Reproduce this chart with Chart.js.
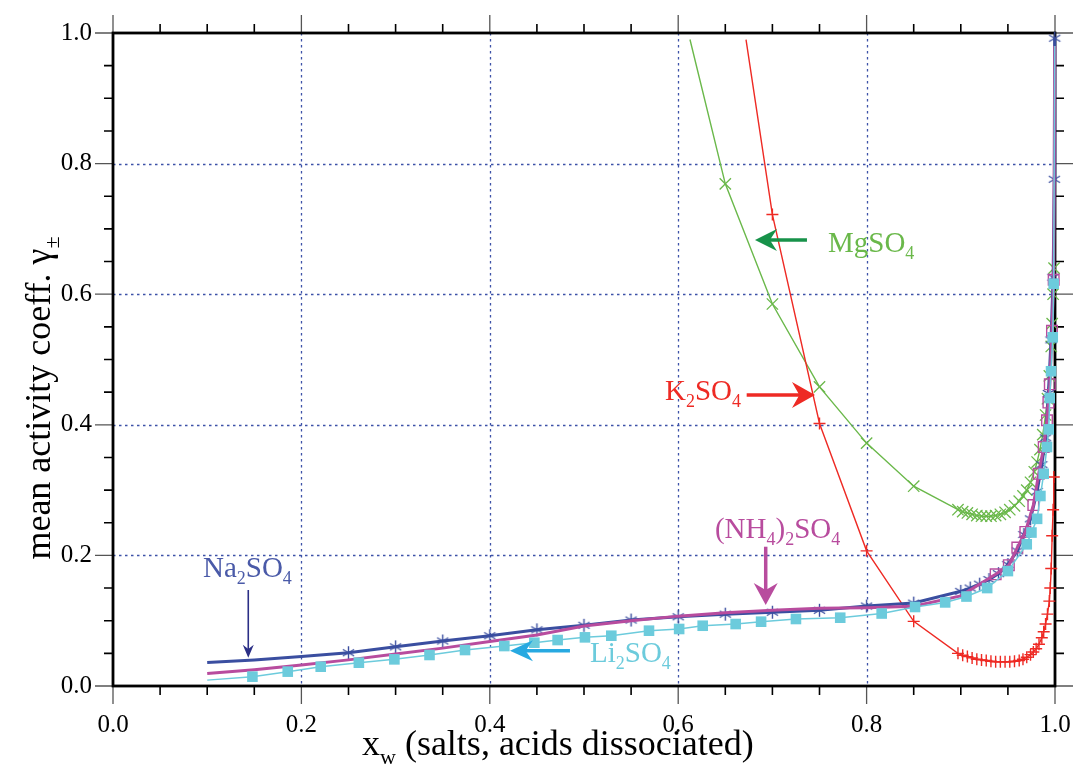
<!DOCTYPE html>
<html><head><meta charset="utf-8">
<script src="https://cdn.jsdelivr.net/npm/chart.js@4"></script>
<style>html,body{margin:0;padding:0;background:#fff}</style>
</head><body>
<canvas id="c" width="1077" height="764"></canvas>
<script>
// ---------------- data ----------------
const seriesNames = ['MgSO4', 'K2SO4', 'Na2SO4', '(NH4)2SO4', 'Li2SO4'];

const mgX = [0.6125, 0.65, 0.70, 0.75, 0.80, 0.85, 0.897, 0.902, 0.907, 0.912, 0.917, 0.922, 0.927, 0.932, 0.937, 0.942, 0.947, 0.952, 0.957, 0.962, 0.966, 0.970, 0.974, 0.978, 0.981, 0.984, 0.987, 0.990, 0.992, 0.994, 0.996, 0.997, 0.998, 0.999];
const mgY = [0.990, 0.769, 0.585, 0.458, 0.372, 0.306, 0.270, 0.267, 0.265, 0.263, 0.261, 0.260, 0.260, 0.260, 0.261, 0.263, 0.266, 0.270, 0.276, 0.283, 0.291, 0.300, 0.312, 0.328, 0.343, 0.362, 0.385, 0.415, 0.440, 0.475, 0.520, 0.555, 0.600, 0.640];

const kX = [0.672, 0.70, 0.75, 0.80, 0.85, 0.897, 0.902, 0.907, 0.912, 0.917, 0.922, 0.927, 0.932, 0.937, 0.942, 0.947, 0.952, 0.957, 0.962, 0.966, 0.970, 0.974, 0.977, 0.980, 0.983, 0.986, 0.988, 0.990, 0.992, 0.994, 0.995, 0.996, 0.997, 0.998, 0.9987];
const kY = [0.990, 0.722, 0.402, 0.207, 0.099, 0.050, 0.047, 0.045, 0.043, 0.041, 0.040, 0.039, 0.038, 0.037, 0.037, 0.037, 0.037, 0.038, 0.039, 0.041, 0.044, 0.048, 0.052, 0.057, 0.064, 0.074, 0.083, 0.095, 0.110, 0.130, 0.150, 0.180, 0.230, 0.270, 0.320];

const naX = [0.10, 0.15, 0.20, 0.25, 0.30, 0.35, 0.40, 0.45, 0.50, 0.55, 0.60, 0.65, 0.70, 0.75, 0.80, 0.85, 0.90, 0.91, 0.92, 0.93, 0.94, 0.95, 0.96, 0.967, 0.974, 0.981, 0.986, 0.990, 0.993, 0.9958, 0.998, 0.9993, 0.9997];
const naY = [0.036, 0.040, 0.045, 0.051, 0.060, 0.069, 0.077, 0.086, 0.093, 0.101, 0.106, 0.110, 0.113, 0.116, 0.1225, 0.127, 0.145, 0.150, 0.156, 0.163, 0.172, 0.186, 0.207, 0.232, 0.256, 0.298, 0.339, 0.380, 0.448, 0.530, 0.626, 0.776, 0.992];

const nhX = [0.10, 0.15, 0.20, 0.25, 0.30, 0.35, 0.40, 0.45, 0.50, 0.55, 0.60, 0.65, 0.70, 0.75, 0.80, 0.85, 0.90, 0.937, 0.951, 0.960, 0.9685, 0.977, 0.9827, 0.988, 0.9915, 0.993, 0.9945, 0.9968, 0.9986, 0.9997];
const nhY = [0.019, 0.025, 0.032, 0.040, 0.049, 0.058, 0.068, 0.078, 0.092, 0.100, 0.107, 0.112, 0.116, 0.119, 0.120, 0.122, 0.138, 0.171, 0.185, 0.212, 0.236, 0.277, 0.325, 0.366, 0.407, 0.434, 0.462, 0.544, 0.622, 0.980];

const liX = [0.10, 0.148, 0.1855, 0.2205, 0.261, 0.2987, 0.336, 0.3737, 0.4154, 0.4473, 0.472, 0.501, 0.529, 0.569, 0.601, 0.626, 0.661, 0.688, 0.725, 0.772, 0.816, 0.8514, 0.8834, 0.906, 0.928, 0.950, 0.970, 0.975, 0.981, 0.9845, 0.988, 0.9915, 0.9933, 0.9944, 0.9958, 0.9976, 0.9986, 0.9997];
const liY = [0.009, 0.0143, 0.022, 0.0296, 0.0357, 0.0408, 0.0475, 0.0551, 0.0612, 0.0663, 0.0704, 0.0745, 0.077, 0.0847, 0.0873, 0.0923, 0.0949, 0.0985, 0.1026, 0.1046, 0.111, 0.121, 0.128, 0.137, 0.150, 0.176, 0.217, 0.235, 0.256, 0.291, 0.325, 0.366, 0.393, 0.441, 0.482, 0.534, 0.616, 0.980];

const xTickValues = [0.0, 0.2, 0.4, 0.6, 0.8, 1.0];
const yTickValues = [0.0, 0.2, 0.4, 0.6, 0.8, 1.0];
const xTickLabels = ['0.0', '0.2', '0.4', '0.6', '0.8', '1.0'];
const yTickLabels = ['0.0', '0.2', '0.4', '0.6', '0.8', '1.0'];

// ---------------- styling ----------------
const FONT = '"Liberation Serif", "Times New Roman", "DejaVu Serif", serif';
const C = {
  mg: '#6ab84a', mgArrow: '#17924a',
  k: '#ee2a24',
  na: '#3a4ea0', naText: '#4a5aa8', naArrow: '#2b2f86',
  nh: '#b84c9e',
  li: '#6ccbdc', liArrow: '#27a9e1',
  grid: '#3d52a8'
};
function pts(xs, ys) { return xs.map((x, i) => ({ x: x, y: ys[i] })); }

// six-armed asterisk marker
function asterisk(color, r, lw) {
  const s = Math.ceil(2 * r + 4), cv = document.createElement('canvas');
  cv.width = s; cv.height = s;
  const g = cv.getContext('2d');
  g.strokeStyle = color; g.lineWidth = lw; g.lineCap = 'butt';
  g.translate(s / 2, s / 2);
  [90, 30, 150].forEach(deg => {
    const a = deg * Math.PI / 180, dx = Math.cos(a) * r, dy = Math.sin(a) * r;
    g.beginPath(); g.moveTo(-dx, -dy); g.lineTo(dx, dy); g.stroke();
  });
  return cv;
}

// ---------------- plugins ----------------
const framePlugin = {
  id: 'frame',
  beforeDatasetsDraw(chart) {
    const { ctx, chartArea: a, scales: { x, y } } = chart;
    ctx.save();
    ctx.strokeStyle = C.grid; ctx.lineWidth = 1.3; ctx.setLineDash([2.5, 3.5]);
    xTickValues.slice(1, -1).forEach(v => {
      const px = Math.round(x.getPixelForValue(v)) + 0.5;
      ctx.beginPath(); ctx.moveTo(px, a.top); ctx.lineTo(px, a.bottom); ctx.stroke();
    });
    yTickValues.slice(1, -1).forEach(v => {
      const py = Math.round(y.getPixelForValue(v)) + 0.5;
      ctx.beginPath(); ctx.moveTo(a.left, py); ctx.lineTo(a.right, py); ctx.stroke();
    });
    ctx.setLineDash([]);
    for (let i = 0; i <= 20; i++) {
      const v = i * 0.05;
      const major = i % 4 === 0;
      const L = major ? 18 : 9;
      ctx.strokeStyle = major ? '#555' : '#000';
      ctx.lineWidth = major ? 1.3 : 1.6;
      const px = x.getPixelForValue(v), py = y.getPixelForValue(v);
      ctx.beginPath();
      ctx.moveTo(px, a.bottom); ctx.lineTo(px, a.bottom + L);
      ctx.moveTo(px, a.top); ctx.lineTo(px, a.top - L);
      ctx.moveTo(a.left, py); ctx.lineTo(a.left - L, py);
      ctx.moveTo(a.right, py); ctx.lineTo(a.right + L, py);
      ctx.stroke();
    }
    ctx.strokeStyle = '#000'; ctx.lineWidth = 2.8;
    ctx.strokeRect(a.left, a.top, a.right - a.left, a.bottom - a.top);
    ctx.restore();
  }
};

function richText(ctx, x, y, parts, size, color, align) {
  const subSize = Math.round(size * 0.62);
  const widths = parts.map(p => { ctx.font = (p.sub ? subSize : size) + 'px ' + FONT; return ctx.measureText(p.t).width; });
  const total = widths.reduce((s, w) => s + w, 0);
  let cx = align === 'center' ? x - total / 2 : x;
  ctx.fillStyle = color; ctx.textBaseline = 'alphabetic'; ctx.textAlign = 'left';
  parts.forEach((p, i) => {
    ctx.font = (p.sub ? subSize : size) + 'px ' + FONT;
    ctx.fillText(p.t, cx, p.sub ? y + size * 0.24 : y);
    cx += widths[i];
  });
}

function arrow(ctx, x1, y1, x2, y2, color, shaftW, headLen, headW) {
  const dx = x2 - x1, dy = y2 - y1, len = Math.hypot(dx, dy);
  const ux = dx / len, uy = dy / len, nx = -uy, ny = ux;
  ctx.save();
  ctx.strokeStyle = color; ctx.fillStyle = color; ctx.lineWidth = shaftW;
  ctx.beginPath(); ctx.moveTo(x1, y1); ctx.lineTo(x2 - ux * headLen * 0.6, y2 - uy * headLen * 0.6); ctx.stroke();
  ctx.beginPath();
  ctx.moveTo(x2, y2);
  ctx.lineTo(x2 - ux * headLen + nx * headW / 2, y2 - uy * headLen + ny * headW / 2);
  ctx.lineTo(x2 - ux * headLen * 0.68, y2 - uy * headLen * 0.68);
  ctx.lineTo(x2 - ux * headLen - nx * headW / 2, y2 - uy * headLen - ny * headW / 2);
  ctx.closePath(); ctx.fill();
  ctx.restore();
}

const annotations = [
  { text: [{ t: 'MgSO' }, { t: '4', sub: true }], x: 0.759, y: 0.665, color: C.mg,
    arrow: { x1: 0.7367, y1: 0.683, x2: 0.6815, y2: 0.683, color: C.mgArrow, w: 3.5, hl: 22, hw: 22 } },
  { text: [{ t: 'K' }, { t: '2', sub: true }, { t: 'SO' }, { t: '4', sub: true }], x: 0.586, y: 0.438, color: C.k,
    arrow: { x1: 0.6727, y1: 0.4456, x2: 0.7452, y2: 0.4456, color: C.k, w: 3.5, hl: 23, hw: 26 } },
  { text: [{ t: '(NH' }, { t: '4', sub: true }, { t: ')' }, { t: '2', sub: true }, { t: 'SO' }, { t: '4', sub: true }], x: 0.639, y: 0.2266, color: C.nh,
    arrow: { x1: 0.6929, y1: 0.2133, x2: 0.6929, y2: 0.124, color: C.nh, w: 3.5, hl: 22, hw: 24 } },
  { text: [{ t: 'Na' }, { t: '2', sub: true }, { t: 'SO' }, { t: '4', sub: true }], x: 0.0955, y: 0.1674, color: C.naText,
    arrow: { x1: 0.1436, y1: 0.147, x2: 0.1436, y2: 0.0433, color: C.naArrow, w: 1.6, hl: 13, hw: 11 } },
  { text: [{ t: 'Li' }, { t: '2', sub: true }, { t: 'SO' }, { t: '4', sub: true }], x: 0.5064, y: 0.0372, color: C.li,
    arrow: { x1: 0.4851, y1: 0.054, x2: 0.4214, y2: 0.054, color: C.liArrow, w: 3.5, hl: 23, hw: 21 } }
];

const annotPlugin = {
  id: 'annot',
  afterDatasetsDraw(chart) {
    const { ctx, scales: { x, y } } = chart;
    ctx.save();
    annotations.forEach(a => {
      richText(ctx, x.getPixelForValue(a.x), y.getPixelForValue(a.y), a.text, 29, a.color, 'left');
      const r = a.arrow;
      arrow(ctx, x.getPixelForValue(r.x1), y.getPixelForValue(r.y1), x.getPixelForValue(r.x2), y.getPixelForValue(r.y2), r.color, r.w, r.hl, r.hw);
    });
    ctx.restore();
  },
  afterDraw(chart) {
    const { ctx, chartArea: a } = chart;
    ctx.save();
    richText(ctx, 362, 755, [{ t: 'x' }, { t: 'w', sub: true }, { t: ' (salts, acids dissociated)' }], 36, '#000', 'left');
    ctx.translate(50, 398);
    ctx.rotate(-Math.PI / 2);
    richText(ctx, 0, 0, [{ t: 'mean activity coeff. γ' }, { t: '±', sub: true }], 36, '#000', 'center');
    ctx.restore();
  }
};

// ---------------- chart ----------------
function lineSet(label, xs, ys, opt) {
  return Object.assign({
    label: label, data: pts(xs, ys), showLine: true, tension: 0, clip: false,
    fill: false, pointHoverRadius: 0
  }, opt);
}

const starImg = asterisk(C.na, 6.5, 1.4);

const datasets = [
  lineSet(seriesNames[4], liX, liY, {
    borderColor: C.li, borderWidth: 1.5, pointStyle: 'rect',
    pointRadius: c => (c.dataIndex === 0 || c.dataIndex === liX.length - 1) ? 0 : 7.5,
    pointBackgroundColor: C.li, pointBorderColor: C.li, pointBorderWidth: 0, order: 1 }),
  lineSet(seriesNames[3], nhX, nhY, {
    borderColor: C.nh, borderWidth: 3, pointStyle: 'rect',
    pointRadius: c => (nhX[c.dataIndex] < 0.93 || c.dataIndex === nhX.length - 1) ? 0 : 7.5,
    pointBackgroundColor: 'rgba(0,0,0,0)', pointBorderColor: C.nh, pointBorderWidth: 1.4, order: 2 }),
  lineSet(seriesNames[2], naX, naY, {
    borderColor: C.na, borderWidth: 3,
    pointStyle: c => c.dataIndex < 3 ? false : starImg,
    pointRadius: c => c.dataIndex < 3 ? 0 : 6,
    pointBackgroundColor: C.na, pointBorderColor: C.na, pointBorderWidth: 1.3, order: 3 }),
  lineSet(seriesNames[1], kX, kY, {
    borderColor: C.k, borderWidth: 1.4, pointStyle: 'cross',
    pointRadius: c => c.dataIndex === 0 ? 0 : 6,
    pointBackgroundColor: C.k, pointBorderColor: C.k, pointBorderWidth: 1.4, order: 4 }),
  lineSet(seriesNames[0], mgX, mgY, {
    borderColor: C.mg, borderWidth: 1.4, pointStyle: 'crossRot',
    pointRadius: c => c.dataIndex === 0 ? 0 : 8,
    pointBackgroundColor: C.mg, pointBorderColor: C.mg, pointBorderWidth: 1.3, order: 5 })
];

new Chart(document.getElementById('c'), {
  type: 'scatter',
  data: { datasets: datasets },
  options: {
    responsive: false, animation: false, devicePixelRatio: 1,
    layout: { padding: { top: 33, right: 22, left: 0, bottom: 0 } },
    plugins: { legend: { display: false }, tooltip: { enabled: false } },
    events: [],
    scales: {
      x: {
        type: 'linear', min: 0, max: 1,
        afterBuildTicks: s => { s.ticks = xTickValues.map(v => ({ value: v })); },
        ticks: { callback: (v, i) => xTickLabels[i], font: { family: FONT, size: 25 }, color: '#000', padding: 24, maxRotation: 0, autoSkip: false },
        grid: { display: false, drawTicks: false }, border: { display: false },
        afterFit: s => { s.height = 78; s.paddingLeft = 0; s.paddingRight = 0; }
      },
      y: {
        type: 'linear', min: 0, max: 1,
        afterBuildTicks: s => { s.ticks = yTickValues.map(v => ({ value: v })); },
        ticks: { callback: (v, i) => yTickLabels[i], font: { family: FONT, size: 25 }, color: '#000', padding: 21, autoSkip: false },
        grid: { display: false, drawTicks: false }, border: { display: false },
        afterFit: s => { s.width = 113; s.paddingTop = 0; s.paddingBottom = 0; }
      }
    }
  },
  plugins: [framePlugin, annotPlugin]
});
</script>
</body></html>
